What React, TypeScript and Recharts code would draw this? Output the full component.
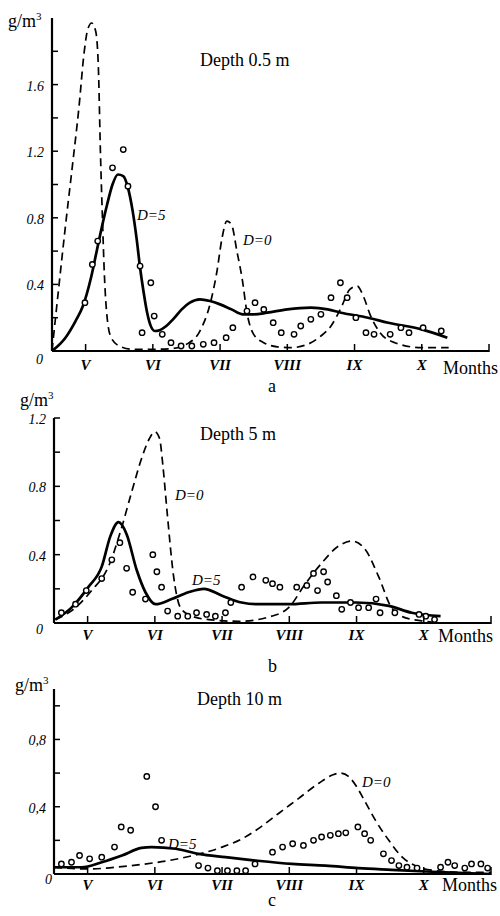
import React from 'react'
import { ComposedChart, Line, Scatter, XAxis, YAxis } from 'recharts'

// month positions: V = 5 ... X = 10
const monthTicks = [5, 6, 7, 8, 9, 10, 11]
const monthLabels = ['V', 'VI', 'VII', 'VIII', 'IX', 'X', '']

const yTicksA = [0.2, 0.4, 0.6, 0.8, 1, 1.2, 1.4, 1.6, 1.8]
const yLabelsA = ['', '0.4', '', '0.8', '', '1.2', '', '1.6', '']
const yTicksB = [0.2, 0.4, 0.6, 0.8, 1, 1.2]
const yLabelsB = ['', '0.4', '', '0.8', '', '1.2']
const yTicksC = [0.2, 0.4, 0.6, 0.8, 1]
const yLabelsC = ['', '0,4', '', '0,8', '']

// depth 0.5 m
const dashA: [number, number][] = [
  [4.5, 0], [4.6, 0.38], [4.7, 0.75], [4.8, 1.1], [4.9, 1.46], [4.98, 1.8], [5.03, 1.93], [5.09, 1.97],
  [5.15, 1.92], [5.19, 1.7], [5.22, 1.2], [5.25, 0.8], [5.28, 0.45], [5.32, 0.2], [5.38, 0.08], [5.5, 0.03],
  [5.7, 0.01], [6.0, 0.01], [6.3, 0.015], [6.5, 0.04], [6.7, 0.12], [6.85, 0.28], [6.95, 0.47], [7.03, 0.68],
  [7.1, 0.78], [7.17, 0.76], [7.25, 0.6], [7.33, 0.43], [7.4, 0.23], [7.5, 0.1], [7.65, 0.05], [7.85, 0.025],
  [8.05, 0.02], [8.3, 0.04], [8.5, 0.09], [8.65, 0.15], [8.8, 0.26], [8.93, 0.37], [9.04, 0.39], [9.13, 0.33],
  [9.23, 0.22], [9.38, 0.11], [9.6, 0.05], [10.0, 0.02], [10.4, 0.02],
]
const solidA: [number, number][] = [
  [4.5, 0], [4.7, 0.08], [4.85, 0.18], [4.96, 0.27], [5.08, 0.44], [5.17, 0.61], [5.25, 0.76], [5.32, 0.88],
  [5.4, 1.0], [5.48, 1.06], [5.56, 1.05], [5.63, 0.98], [5.7, 0.84], [5.76, 0.67], [5.81, 0.5], [5.86, 0.36],
  [5.91, 0.24], [5.96, 0.16], [6.03, 0.12], [6.1, 0.125], [6.2, 0.15], [6.3, 0.19], [6.43, 0.25], [6.55, 0.29],
  [6.7, 0.31], [6.85, 0.3], [7.0, 0.28], [7.17, 0.25], [7.34, 0.22], [7.5, 0.22], [7.7, 0.23], [8.0, 0.25],
  [8.35, 0.26], [8.6, 0.25], [8.8, 0.23], [9.2, 0.2], [9.5, 0.17], [10.0, 0.13], [10.38, 0.08],
]
const obsA: [number, number][] = [
  [4.99, 0.29], [5.1, 0.52], [5.18, 0.66], [5.4, 1.1], [5.56, 1.21], [5.63, 0.99], [5.81, 0.51], [5.97, 0.41],
  [6.02, 0.21], [5.84, 0.11], [6.14, 0.1], [6.27, 0.05], [6.42, 0.03], [6.58, 0.03], [6.75, 0.04], [6.91, 0.05],
  [7.09, 0.08], [7.19, 0.14], [7.4, 0.24], [7.52, 0.29], [7.65, 0.25], [7.79, 0.17], [7.91, 0.11], [8.1, 0.1],
  [8.2, 0.15], [8.35, 0.19], [8.5, 0.22], [8.65, 0.32], [8.79, 0.41], [8.89, 0.32], [9.02, 0.2], [9.17, 0.11],
  [9.29, 0.1], [9.53, 0.1], [9.69, 0.14], [9.81, 0.11], [10.02, 0.14], [10.29, 0.12],
]

// depth 5 m
const dashB: [number, number][] = [
  [4.52, 0.02], [4.82, 0.09], [5.06, 0.19], [5.31, 0.33], [5.5, 0.55], [5.65, 0.76], [5.8, 0.96], [5.92, 1.08],
  [6.0, 1.12], [6.07, 1.08], [6.12, 0.92], [6.18, 0.66], [6.28, 0.27], [6.38, 0.09], [6.55, 0.04], [6.8, 0.02],
  [7.25, 0.01], [7.74, 0.04], [7.99, 0.09], [8.24, 0.23], [8.48, 0.35], [8.73, 0.45], [8.93, 0.48], [9.13, 0.43],
  [9.33, 0.27], [9.52, 0.09], [9.73, 0.03], [10.03, 0.01], [10.22, 0.0],
]
const solidB: [number, number][] = [
  [4.52, 0.02], [4.76, 0.09], [5.01, 0.21], [5.21, 0.33], [5.34, 0.51], [5.46, 0.59], [5.58, 0.52], [5.73, 0.31],
  [5.86, 0.18], [6.01, 0.11], [6.25, 0.14], [6.5, 0.18], [6.73, 0.2], [7.0, 0.16], [7.29, 0.12], [7.54, 0.11],
  [7.99, 0.11], [8.48, 0.12], [8.99, 0.12], [9.48, 0.1], [9.82, 0.06], [10.25, 0.04],
]
const obsB: [number, number][] = [
  [4.61, 0.06], [4.82, 0.11], [4.98, 0.19], [5.21, 0.26], [5.36, 0.37], [5.48, 0.47], [5.58, 0.32], [5.67, 0.18],
  [5.86, 0.14], [5.97, 0.4], [6.03, 0.3], [6.1, 0.21], [6.19, 0.07], [6.34, 0.04], [6.49, 0.04], [6.62, 0.06],
  [6.77, 0.05], [6.9, 0.04], [7.05, 0.06], [7.13, 0.12], [7.29, 0.21], [7.46, 0.27], [7.65, 0.25], [7.75, 0.23],
  [7.86, 0.21], [8.11, 0.21], [8.26, 0.22], [8.36, 0.29], [8.51, 0.3], [8.42, 0.19], [8.57, 0.24], [8.7, 0.16],
  [8.78, 0.08], [8.91, 0.12], [9.03, 0.09], [9.18, 0.09], [9.29, 0.14], [9.35, 0.06], [9.57, 0.06], [9.93, 0.05],
  [10.03, 0.04], [10.16, 0.02],
]

// depth 10 m
const dashC: [number, number][] = [
  [4.5, 0.04], [5.0, 0.03], [5.65, 0.05], [6.4, 0.095], [7.0, 0.16], [7.3, 0.21], [7.54, 0.27], [7.84, 0.36],
  [8.14, 0.45], [8.44, 0.54], [8.65, 0.59], [8.76, 0.6], [8.88, 0.58], [9.0, 0.52], [9.1, 0.45], [9.28, 0.32],
  [9.48, 0.2], [9.68, 0.1], [9.93, 0.04], [10.18, 0.02], [10.6, 0.01], [11, 0.01],
]
const solidC: [number, number][] = [
  [4.5, 0.04], [4.91, 0.04], [5.21, 0.07], [5.51, 0.11], [5.8, 0.155], [5.95, 0.16], [6.31, 0.15], [6.65, 0.12],
  [7.05, 0.1], [7.5, 0.08], [8.04, 0.06], [8.54, 0.05], [9.03, 0.035], [9.52, 0.025], [10.03, 0.015], [11, 0],
]
const obsC: [number, number][] = [
  [4.61, 0.06], [4.76, 0.07], [4.88, 0.11], [5.03, 0.09], [5.21, 0.1], [5.4, 0.16], [5.5, 0.28], [5.64, 0.26],
  [5.88, 0.58], [6.01, 0.4], [6.1, 0.2], [6.65, 0.05], [6.79, 0.035], [6.93, 0.02], [7.08, 0.02], [7.22, 0.02],
  [7.35, 0.02], [7.49, 0.06], [7.75, 0.13], [7.9, 0.16], [8.05, 0.18], [8.21, 0.17], [8.36, 0.2], [8.48, 0.22],
  [8.61, 0.23], [8.73, 0.24], [8.84, 0.245], [9.02, 0.28], [9.12, 0.24], [9.21, 0.2], [9.4, 0.12], [9.52, 0.08],
  [9.63, 0.05], [9.75, 0.04], [9.9, 0.035], [10.25, 0.04], [10.36, 0.07], [10.46, 0.05], [10.61, 0.035],
  [10.71, 0.06], [10.85, 0.06], [10.95, 0.035],
]

const pts = (a: [number, number][]) => a.map(([m, v]) => ({ m, v }))

const SERIF = '"Liberation Serif", "DejaVu Serif", serif'

const Ring = (p: any) => <circle cx={p.cx} cy={p.cy} r={2.7} fill="#fff" stroke="#000" strokeWidth={1.4} />

function Panel({ top, height, margin, yMax, yTicks, yLabels, dash, solid, obs, labelDy }: any) {
  const yTick = (p: any) => {
    const i = yTicks.indexOf(p.payload.value)
    return (
      <g>
        <line x1={p.x} x2={p.x + 6} y1={p.y} y2={p.y} stroke="#000" strokeWidth={1.5} />
        {yLabels[i] ? (
          <text x={p.x - 8} y={p.y + 6} textAnchor="end" fontFamily={SERIF} fontStyle="italic" fontSize={14}>{yLabels[i]}</text>
        ) : null}
      </g>
    )
  }
  const xTick = (p: any) => {
    const i = monthTicks.indexOf(p.payload.value)
    return (
      <g>
        <line x1={p.x} x2={p.x} y1={p.y + 1} y2={p.y - 7} stroke="#000" strokeWidth={1.5} />
        {monthLabels[i] ? (
          <text x={p.x} y={p.y + labelDy} textAnchor="middle" fontFamily={SERIF} fontStyle="italic" fontWeight="bold" fontSize={15}>{monthLabels[i]}</text>
        ) : null}
      </g>
    )
  }
  return (
    <div style={{ position: 'absolute', left: 0, top }}>
      <ComposedChart width={500} height={height} margin={margin}>
        <XAxis dataKey="m" type="number" domain={[4.5, 11]} ticks={monthTicks} interval={0} allowDataOverflow
          height={1} tickSize={0} tickMargin={0} tick={xTick} axisLine={{ stroke: '#000', strokeWidth: 2.2 }} tickLine={false} />
        <YAxis dataKey="v" type="number" domain={[0, yMax]} ticks={yTicks} interval={0} allowDataOverflow
          width={1} tickSize={0} tickMargin={0} tick={yTick} axisLine={{ stroke: '#000', strokeWidth: 2.2 }} tickLine={false} />
        <Line data={pts(dash)} dataKey="v" type="monotone" stroke="#000" strokeWidth={1.7} strokeDasharray="8 5"
          dot={false} activeDot={false} isAnimationActive={false} />
        <Line data={pts(solid)} dataKey="v" type="monotone" stroke="#000" strokeWidth={2.7}
          dot={false} activeDot={false} isAnimationActive={false} />
        <Scatter data={pts(obs)} dataKey="v" shape={Ring} isAnimationActive={false} />
      </ComposedChart>
    </div>
  )
}

const T = (p: any) => <text fontFamily={SERIF} fontSize={18} {...p} />
const D = (p: any) => <text fontFamily={SERIF} fontStyle="italic" fontSize={15} {...p} />

export default function App() {
  return (
    <div style={{ position: 'absolute', left: 0, top: 0, width: 500, height: 916, background: '#fff' }}>
      <Panel top={0} height={400} margin={{ top: 18, right: 11, bottom: 48, left: 51 }} yMax={2}
        yTicks={yTicksA} yLabels={yLabelsA} dash={dashA} solid={solidA} obs={obsA} labelDy={19} />
      <Panel top={400} height={280} margin={{ top: 18, right: 9, bottom: 56, left: 53 }} yMax={1.2}
        yTicks={yTicksB} yLabels={yLabelsB} dash={dashB} solid={solidB} obs={obsB} labelDy={17} />
      <Panel top={670} height={246} margin={{ top: 19, right: 9, bottom: 41, left: 53 }} yMax={1.1}
        yTicks={yTicksC} yLabels={yLabelsC} dash={dashC} solid={solidC} obs={obsC} labelDy={16} />
      <svg width={500} height={916} style={{ position: 'absolute', left: 0, top: 0, pointerEvents: 'none' }}>
        <T x={8} y={27}>g/m<tspan fontSize={11} dy={-7}>3</tspan></T>
        <T x={200} y={66}>Depth 0.5 m</T>
        <T x={443} y={374}>Months</T>
        <T x={268} y={392}>a</T>
        <text x={43} y={364} textAnchor="end" fontFamily={SERIF} fontStyle="italic" fontSize={14}>0</text>
        <D x={137} y={220}>D=5</D>
        <D x={243} y={245}>D=0</D>

        <T x={20} y={406}>g/m<tspan fontSize={11} dy={-7}>3</tspan></T>
        <T x={200} y={440}>Depth 5 m</T>
        <T x={438} y={642}>Months</T>
        <T x={268} y={672}>b</T>
        <text x={43} y={634} textAnchor="end" fontFamily={SERIF} fontStyle="italic" fontSize={14}>0</text>
        <D x={175} y={500}>D=0</D>
        <D x={192} y={585}>D=5</D>

        <T x={15} y={691}>g/m<tspan fontSize={11} dy={-7}>3</tspan></T>
        <T x={197} y={705}>Depth 10 m</T>
        <T x={442} y={891}>Months</T>
        <T x={268} y={906}>c</T>
        <text x={52} y={884} textAnchor="end" fontFamily={SERIF} fontStyle="italic" fontSize={14}>0</text>
        <D x={168} y={849}>D=5</D>
        <D x={362} y={787}>D=0</D>
      </svg>
    </div>
  )
}
